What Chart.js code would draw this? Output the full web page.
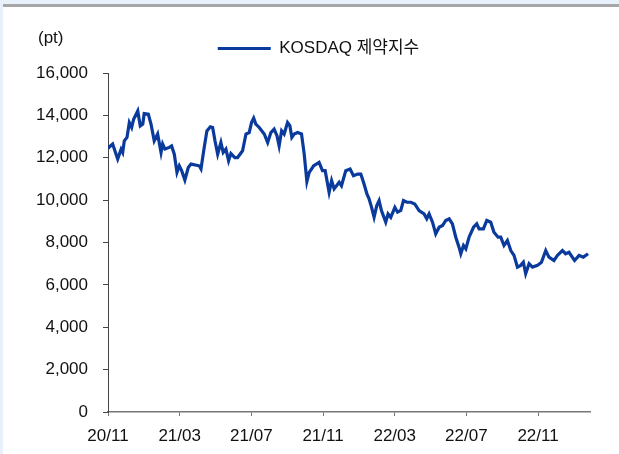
<!DOCTYPE html>
<html>
<head>
<meta charset="utf-8">
<script src="https://cdn.jsdelivr.net/npm/chart.js@4/dist/chart.umd.min.js"></script>
<style>
html, body { margin: 0; padding: 0; background: #e8f0fb; }
#wrap { position: absolute; left: 3px; top: 4px; width: 616px; height: 447px; background: #fff; border-top: 3px solid #a6a6a6; }
canvas { display: block; }
</style>
</head>
<body>
<div id="wrap"><canvas id="chart" width="616" height="447"></canvas></div>
<script>
// months elapsed since 2020/11/01
var monthPos = [0.00, 0.26, 0.54, 0.73, 0.82, 0.91, 1.06, 1.19, 1.32, 1.43, 1.66, 1.80, 1.94, 2.02, 2.25, 2.40, 2.58, 2.77, 2.96, 3.05,
    3.18, 3.42, 3.55, 3.70, 3.85, 3.98, 4.11, 4.29, 4.48, 4.63, 5.09, 5.19, 5.37, 5.52, 5.71, 5.84, 5.97, 6.12, 6.30, 6.43,
    6.58, 6.73, 6.86, 7.08, 7.23, 7.51, 7.70, 7.88, 8.01, 8.13, 8.25, 8.44, 8.72, 8.91, 9.09, 9.27, 9.43, 9.55, 9.69, 9.83,
    10.02, 10.15, 10.26, 10.39, 10.58, 10.80, 10.95, 11.10, 11.23, 11.42, 11.47, 11.78, 11.97, 12.12, 12.34, 12.48, 12.62, 12.90, 13.03, 13.27,
    13.51, 13.70, 13.93, 14.11, 14.29, 14.45, 14.57, 14.71, 14.85, 15.00, 15.13, 15.26, 15.50, 15.63, 15.78, 16.01, 16.16, 16.34, 16.49, 16.68,
    16.90, 17.12, 17.36, 17.64, 17.79, 17.92, 18.11, 18.29, 18.48, 18.67, 18.85, 19.04, 19.22, 19.41, 19.59, 19.69, 19.84, 19.97, 20.15, 20.40,
    20.58, 20.71, 20.95, 21.14, 21.36, 21.54, 21.77, 21.92, 22.10, 22.29, 22.48, 22.66, 22.85, 23.03, 23.18, 23.31, 23.50, 23.69, 23.97, 24.19,
    24.43, 24.61, 24.89, 25.08, 25.36, 25.54, 25.73, 25.91, 26.04, 26.29, 26.53, 26.79];
var pharmaIndex = [12450, 12650, 11940, 12400, 12250, 12800, 12960, 13660, 13430, 13820, 14210, 13500, 13590, 14090, 14060, 13590, 12800, 13120, 12250, 12650,
    12410, 12490, 12560, 12170, 11310, 11620, 11390, 10950, 11540, 11700, 11620, 11470, 12490, 13270, 13460, 13430, 12800, 12170, 12720, 12250,
    12410, 11860, 12200, 12010, 12010, 12330, 13120, 13190, 13660, 13870, 13590, 13430, 13120, 12720, 13190, 13350, 13040, 12560, 13270, 13120,
    13660, 13510, 12960, 13120, 13190, 13120, 12170, 10880, 11310, 11540, 11620, 11780, 11390, 11390, 10370, 10920, 10530, 10840, 10680, 11390,
    11470, 11150, 11230, 11230, 10760, 10290, 10060, 9660, 9190, 9740, 9980, 9510, 8960, 9350, 9190, 9660, 9430, 9510, 9980, 9900,
    9900, 9820, 9510, 9350, 9120, 9350, 8960, 8410, 8720, 8800, 9040, 9120, 8880, 8250, 7780, 7470, 7860, 7700, 8250, 8720,
    8880, 8640, 8640, 9040, 8960, 8480, 8250, 8250, 7860, 8090, 7620, 7390, 6840, 6920, 7070, 6530, 7000, 6840, 6920, 7070,
    7620, 7310, 7150, 7390, 7620, 7470, 7540, 7310, 7150, 7390, 7310, 7470];
var xTickLabels = ['20/11', '21/03', '21/07', '21/11', '22/03', '22/07', '22/11'];
var seriesName = 'KOSDAQ 제약지수';

var FONT = "'Liberation Sans Narrow', 'Arial Narrow', Arial, 'Noto Sans CJK KR', sans-serif";
var FONT_SIZE = 17;
var LINE_COLOR = '#0a3a9c';

var points = monthPos.map(function (m, i) { return { x: m, y: pharmaIndex[i] }; });

// "(pt)" unit text, and move the legend a little right and up from where the layout puts it
var extras = {
    id: 'extras',
    afterLayout: function (chart) {
        var lg = chart.legend;
        lg.left += 7;
        lg.right += 7;
        lg.top -= 6;
        lg.bottom -= 6;
    },
    afterDraw: function (chart) {
        var ctx = chart.ctx;
        ctx.save();
        ctx.font = FONT_SIZE + 'px ' + FONT;
        ctx.fillStyle = '#111';
        ctx.textBaseline = 'middle';
        ctx.textAlign = 'left';
        ctx.fillText('(pt)', 35, 31);
        ctx.restore();
    }
};

new Chart(document.getElementById('chart').getContext('2d'), {
    type: 'line',
    data: {
        datasets: [{
            label: seriesName,
            data: points,
            borderColor: LINE_COLOR,
            backgroundColor: LINE_COLOR,
            borderWidth: 3.2,
            pointRadius: 0,
            tension: 0
        }]
    },
    options: {
        responsive: false,
        animation: false,
        devicePixelRatio: 1,
        layout: { padding: { left: 30, right: 29, top: 25, bottom: 0 } },
        plugins: {
            tooltip: { enabled: false },
            legend: {
                position: 'top',
                labels: {
                    boxWidth: 53,
                    boxHeight: 3,
                    padding: 14,
                    color: '#111',
                    font: { family: FONT, size: FONT_SIZE },
                    generateLabels: function (chart) {
                        return Chart.defaults.plugins.legend.labels.generateLabels(chart).map(function (l) {
                            l.lineWidth = 0;
                            l.fillStyle = LINE_COLOR;
                            return l;
                        });
                    }
                }
            }
        },
        scales: {
            x: {
                type: 'linear',
                min: 0,
                max: 26.9,
                afterFit: function (scale) { scale.height = 42; },
                grid: { drawOnChartArea: false, drawTicks: true, tickLength: 4, color: '#777' },
                border: { display: true, color: '#777', width: 1.5 },
                afterBuildTicks: function (scale) {
                    scale.ticks = xTickLabels.map(function (t, i) { return { value: i * 4 }; });
                },
                ticks: {
                    padding: 10,
                    maxRotation: 0,
                    autoSkip: false,
                    color: '#111',
                    font: { family: FONT, size: FONT_SIZE },
                    callback: function (v) { return xTickLabels[Math.round(v / 4)]; }
                }
            },
            y: {
                min: 0,
                max: 16000,
                afterFit: function (scale) { scale.width = 75; },
                grid: { drawOnChartArea: false, drawTicks: true, tickLength: 5, color: '#444' },
                border: { display: true, color: '#444', width: 1 },
                ticks: {
                    stepSize: 2000,
                    padding: 15,
                    color: '#111',
                    font: { family: FONT, size: FONT_SIZE },
                    callback: function (v) { return v.toLocaleString('en-US'); }
                }
            }
        }
    },
    plugins: [extras]
});
</script>
</body>
</html>
